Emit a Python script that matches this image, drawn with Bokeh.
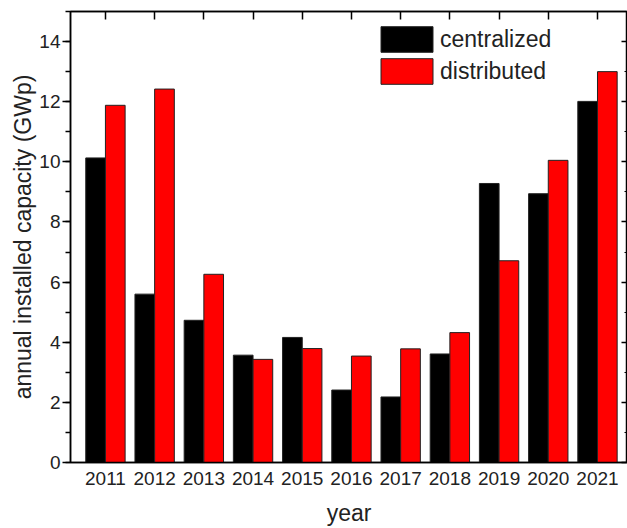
from bokeh.plotting import figure
from bokeh.models import (ColumnDataSource, LinearAxis, FixedTicker, Range1d,
                          Legend, LegendItem, SingleIntervalTicker, CustomJSTickFormatter)
from bokeh.transform import dodge
from bokeh.embed import file_html
from bokeh.resources import INLINE

years = [2011, 2012, 2013, 2014, 2015, 2016, 2017, 2018, 2019, 2020, 2021]
centralized = [10.13, 5.60, 4.73, 3.57, 4.16, 2.41, 2.18, 3.61, 9.28, 8.94, 12.01]
distributed = [11.88, 12.42, 6.26, 3.43, 3.79, 3.54, 3.78, 4.32, 6.71, 10.05, 13.00]

src = ColumnDataSource(dict(year=years, centralized=centralized, distributed=distributed))

FONT = "Liberation Sans"
TXT = "#222222"

p = figure(width=627, height=528, output_backend="svg", toolbar_location=None,
           x_range=Range1d(2010.29, 2021.61), y_range=Range1d(0, 15),
           min_border_left=70, min_border_top=11, min_border_right=0, min_border_bottom=66,
           x_axis_location=None, y_axis_location=None)
p.xgrid.visible = False
p.ygrid.visible = False
p.outline_line_color = "black"
p.outline_line_width = 1.5
p.background_fill_color = "white"
p.border_fill_color = "white"

r1 = p.vbar(x=dodge("year", -0.2, range=p.x_range), top="centralized", width=0.4, bottom=0,
            source=src, fill_color="black", line_color="#222222", line_width=1)
r2 = p.vbar(x=dodge("year", 0.2, range=p.x_range), top="distributed", width=0.4, bottom=0,
            source=src, fill_color="#ff0000", line_color="#222222", line_width=1)

blank = CustomJSTickFormatter(code="return '';")

# left axis
yl = LinearAxis(ticker=SingleIntervalTicker(interval=2, num_minor_ticks=2),
                axis_label="annual installed capacity (GWp)")
yl.major_tick_out = 8
yl.major_tick_in = 0
yl.minor_tick_out = 5
yl.minor_tick_in = 0
yl.major_label_standoff = 2
yl.axis_label_standoff = 0
yl.major_label_text_font = FONT
yl.major_label_text_font_size = "19px"
yl.major_label_text_color = TXT
yl.axis_label_text_font = FONT
yl.axis_label_text_font_size = "23px"
yl.axis_label_text_font_style = "normal"
yl.axis_label_text_color = TXT
yl.axis_line_width = 1.5
yl.major_tick_line_width = 1.5
yl.minor_tick_line_width = 1.5
p.add_layout(yl, "left")

# right axis
yr = LinearAxis(ticker=SingleIntervalTicker(interval=2, num_minor_ticks=2), formatter=blank)
yr.major_tick_out = 0
yr.major_tick_in = 6
yr.minor_tick_out = 0
yr.minor_tick_in = 3
yr.major_label_standoff = 0
yr.axis_line_width = 1.5
yr.major_tick_line_width = 1.5
p.add_layout(yr, "right")

# bottom axis
xb = LinearAxis(ticker=FixedTicker(ticks=years), axis_label="year")
xb.major_tick_out = 0
xb.major_tick_in = 0
xb.minor_tick_line_color = None
xb.major_label_standoff = 9
xb.axis_label_standoff = 12
xb.major_label_text_font = FONT
xb.major_label_text_font_size = "19px"
xb.major_label_text_color = TXT
xb.axis_label_text_font = FONT
xb.axis_label_text_font_size = "23px"
xb.axis_label_text_font_style = "normal"
xb.axis_label_text_color = TXT
xb.axis_line_width = 1.5
p.add_layout(xb, "below")

# top axis
xt = LinearAxis(ticker=FixedTicker(ticks=years), formatter=blank)
xt.major_tick_out = 0
xt.major_tick_in = 8
xt.minor_tick_line_color = None
xt.major_label_standoff = 0
xt.axis_line_width = 1.5
xt.major_tick_line_width = 1.5
p.add_layout(xt, "above")

legend = Legend(items=[LegendItem(label="centralized", renderers=[r1]),
                       LegendItem(label="distributed", renderers=[r2])],
                location=(304, 375))
legend.border_line_color = None
legend.background_fill_alpha = 0
legend.glyph_width = 65
legend.glyph_height = 32
legend.label_height = 32
legend.spacing = -2
legend.padding = 0
legend.margin = 0
legend.label_standoff = 1
legend.label_text_font = FONT
legend.label_text_font_size = "23px"
legend.label_text_color = TXT
p.add_layout(legend, "center")

open("out.html", "w").write(file_html(p, INLINE))
